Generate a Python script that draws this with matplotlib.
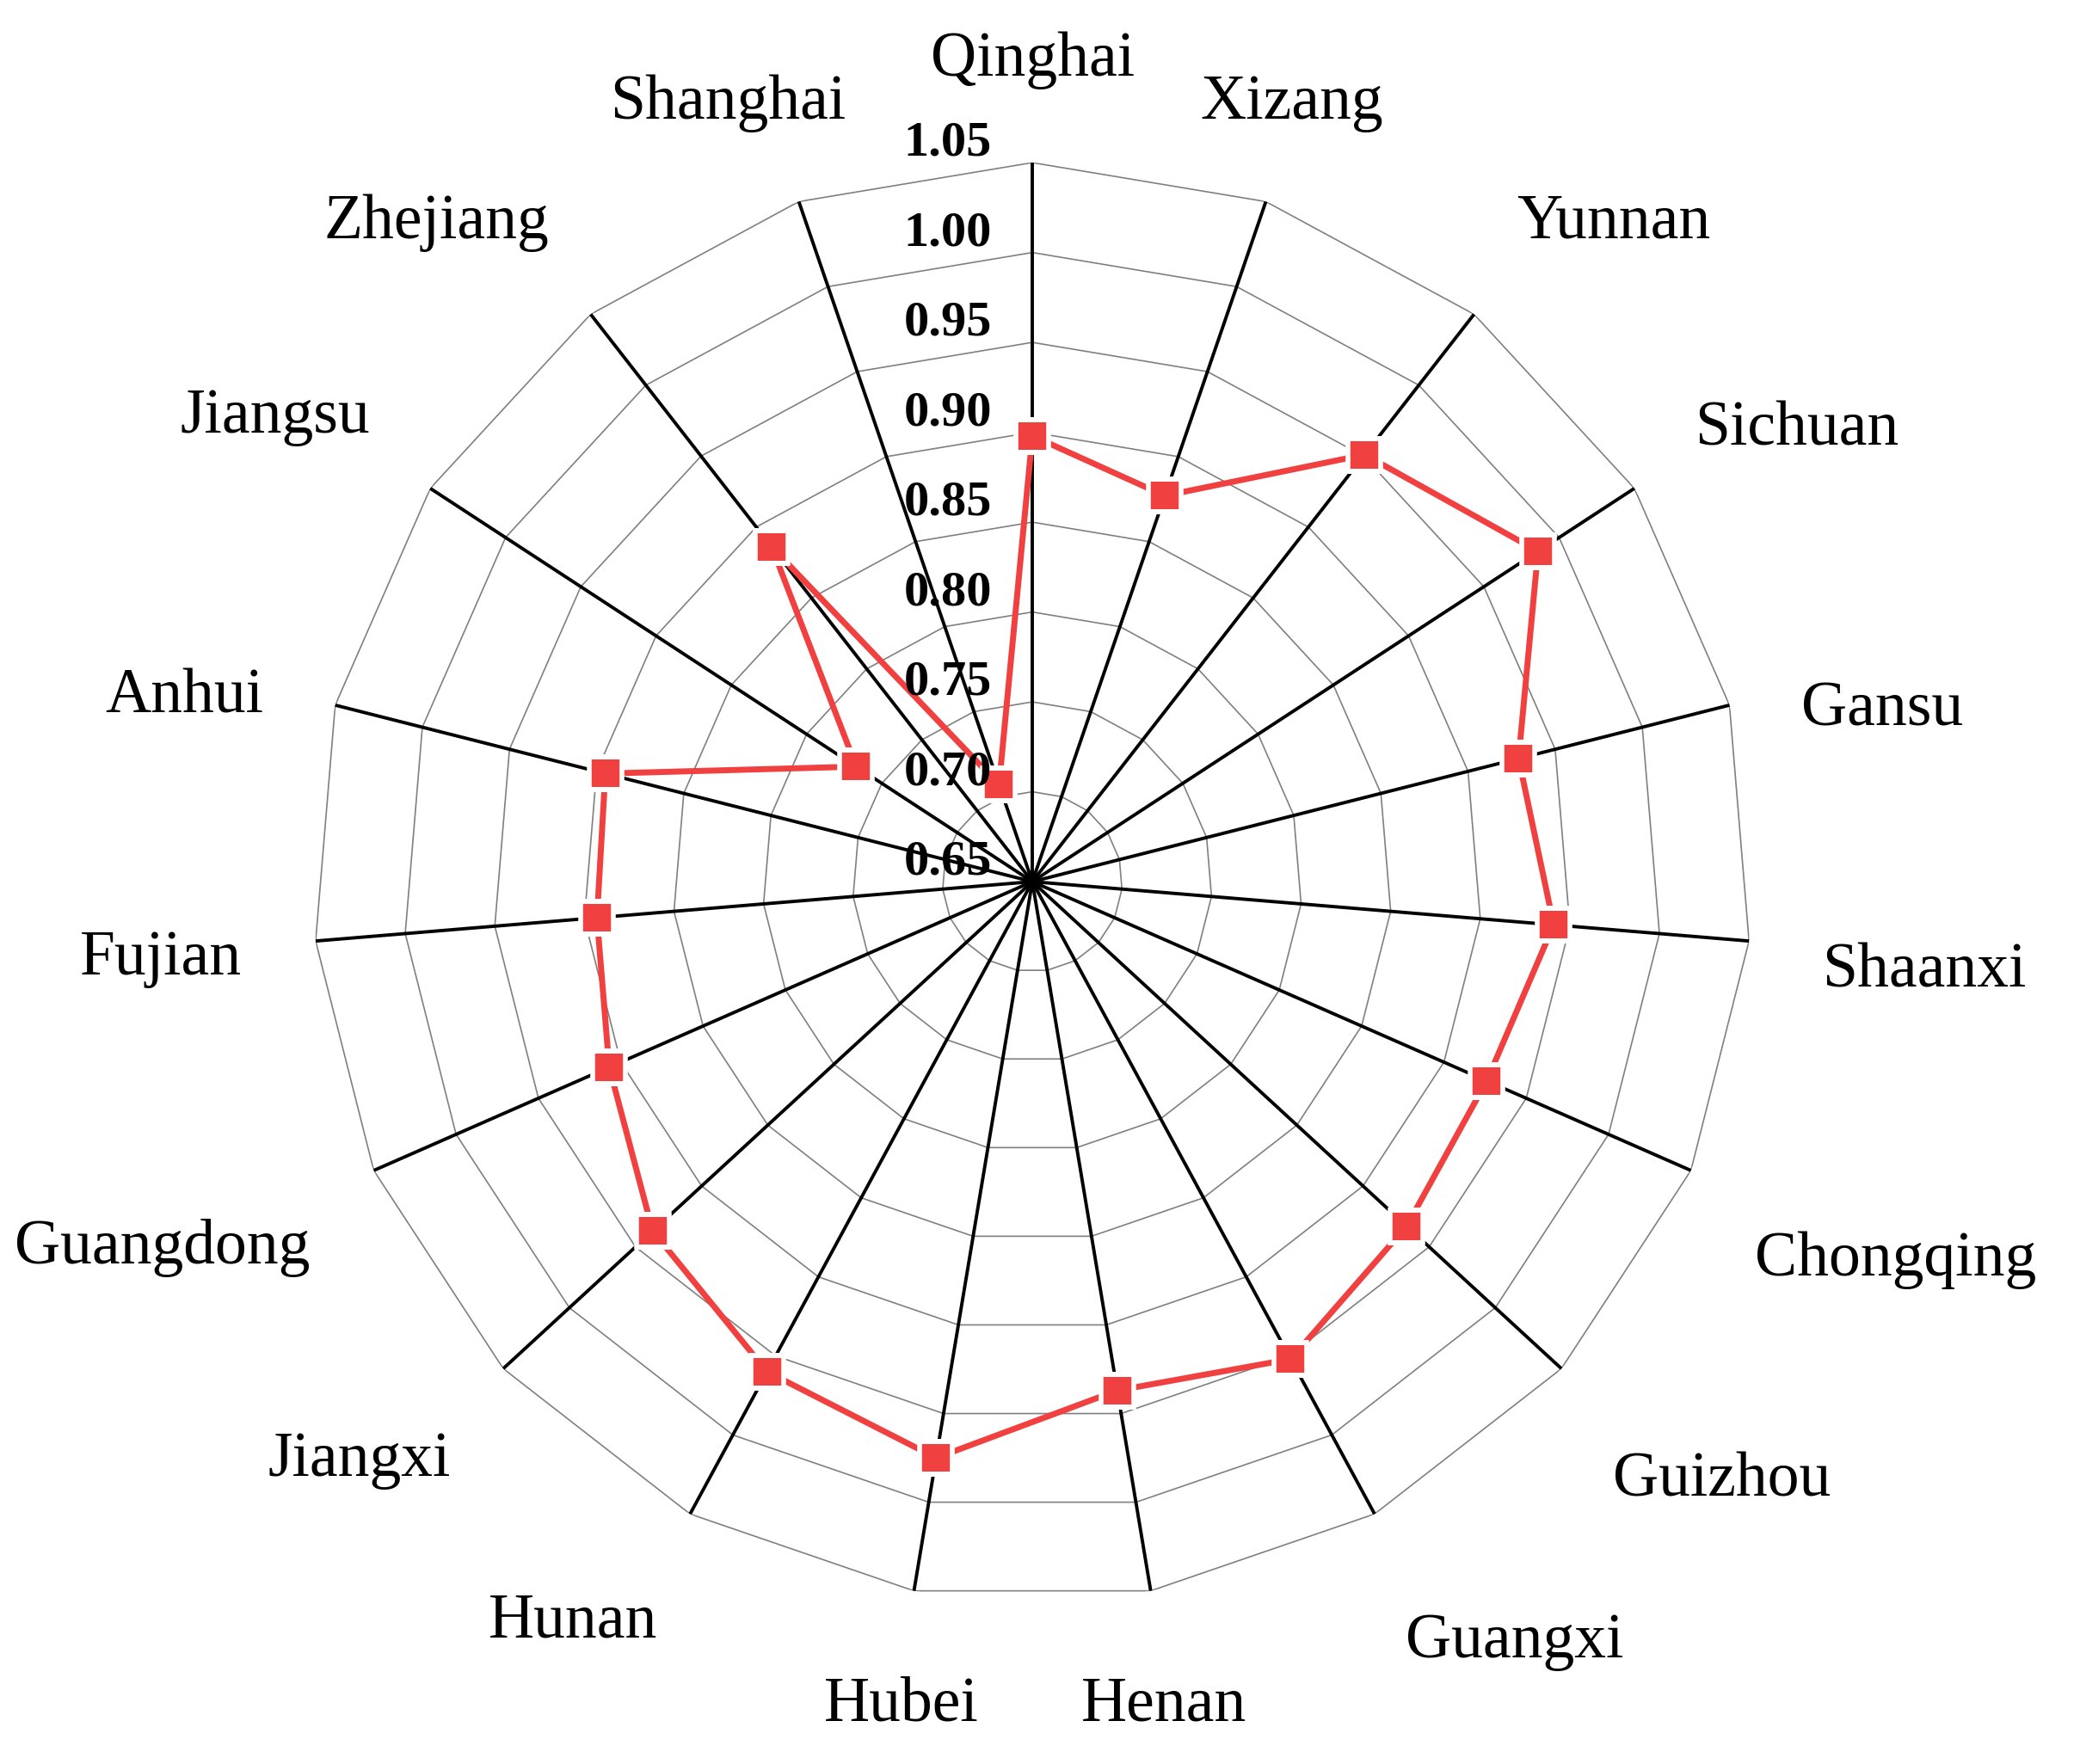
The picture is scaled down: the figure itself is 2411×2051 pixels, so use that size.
import numpy as np
import matplotlib
matplotlib.use("Agg")
import matplotlib.pyplot as plt

# clockwise from the top
provinces = ["Qinghai", "Xizang", "Yunnan", "Sichuan", "Gansu", "Shaanxi",
             "Chongqing", "Guizhou", "Guangxi", "Henan", "Hubei", "Hunan",
             "Jiangxi", "Guangdong", "Fujian", "Anhui", "Jiangsu", "Zhejiang",
             "Shanghai"]
values = [0.898, 0.877, 0.951, 0.986, 0.929, 0.941,
          0.926, 0.933, 0.952, 0.937, 0.975, 0.960,
          0.937, 0.907, 0.893, 0.895, 0.767, 0.886,
          0.707]
ring_levels = [0.65, 0.70, 0.75, 0.80, 0.85, 0.90, 0.95, 1.00, 1.05]
ring_labels = ["0.65", "0.70", "0.75", "0.80", "0.85", "0.90", "0.95", "1.00", "1.05"]

R_MIN, R_MAX = ring_levels[0], ring_levels[-1]
RED = "#F04040"
GRAY = "#808080"
SERIF = ["Liberation Serif", "DejaVu Serif"]
DPI = 200

fig = plt.figure(figsize=(2411 / DPI, 2051 / DPI), dpi=DPI)
ax = fig.add_axes([0.151, 0.0926, 0.6935, 0.8152], projection="polar")
ax.set_theta_zero_location("N")
ax.set_theta_direction(-1)
ax.set_ylim(R_MIN, R_MAX)
ax.set_xticks([])
ax.set_yticks([])
ax.grid(False)
ax.spines["polar"].set_visible(False)

n = len(provinces)
theta = np.arange(n) * 2 * np.pi / n
theta_closed = np.append(theta, theta[0])

# polygon rings
for lvl in ring_levels[1:]:
    ax.plot(theta_closed, [lvl] * (n + 1), color=GRAY, lw=0.6, zorder=1)

# spokes
for t in theta:
    ax.plot([t, t], [R_MIN, R_MAX], color="black", lw=1.4, zorder=2)

# data
vals_closed = np.append(values, values[0])
ax.plot(theta_closed, vals_closed, color=RED, lw=2.5,
        solid_capstyle="round", solid_joinstyle="round", zorder=3)
ax.plot(theta, values, ls="none", marker="s", ms=13.4, mfc=RED,
        mec="white", mew=2.0, zorder=4)

# ring labels along the top spoke
for lvl, lab in zip(ring_levels, ring_labels):
    ax.annotate(lab, xy=(0, lvl), xytext=(-17, 3), textcoords="offset points",
                ha="right", va="baseline", fontsize=21, fontweight="bold",
                family=SERIF, zorder=6, annotation_clip=False)

# category labels: anchor a fixed gap beyond the rim, then shift the box
# sideways / up / down depending on where it sits around the circle
gap_px = 92
c_pts = [-1.0, -0.9, -0.35, -0.1, 0.3, 0.45, 0.8, 0.9, 1.0]
g_pts = [1.2, 1.57, 1.55, 0.4, 0.4, -0.95, -1.0, -0.8, -0.8]  # + = down, half heights

labels = []
for t, name in zip(theta, provinces):
    a = ax.annotate(name, xy=(t, R_MAX), xytext=(0, 0), textcoords="offset pixels",
                    ha="center", va="center", fontsize=26.5, family=SERIF,
                    annotation_clip=False)
    labels.append((t, a))

fig.canvas.draw()
renderer = fig.canvas.get_renderer()
for t, a in labels:
    bb = a.get_window_extent(renderer)
    s, c = np.sin(t), np.cos(t)
    if abs(s) > 0.4:
        f = 0.94 * np.sign(s)
    elif -0.4 <= s < -0.25:
        f = -0.38
    else:
        f = 0.0
    g = np.interp(c, c_pts, g_pts)
    extra = 0.0
    if s > 0.4 and c < 0.7:
        extra = -15
    elif s < -0.4 and c < -0.5:
        extra = 8
    dx = gap_px * s + f * bb.width / 2
    dy = gap_px * c - g * bb.height / 2 + extra
    a.xyann = (dx, dy)

fig.savefig("out.png", dpi=DPI, facecolor="white")
